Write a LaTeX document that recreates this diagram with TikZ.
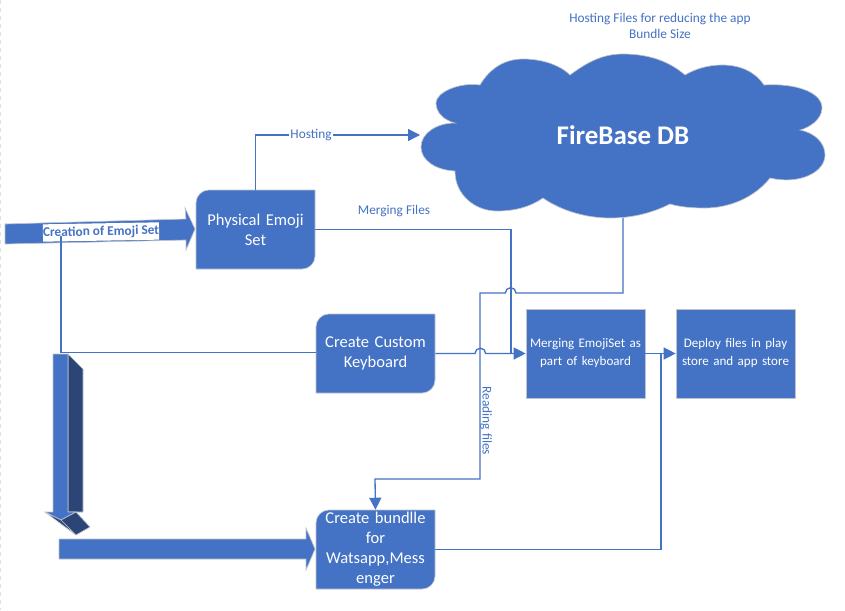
\documentclass[tikz,border=0pt]{standalone}
\usepackage{fontspec}
\setmainfont{Carlito}
\usetikzlibrary{arrows.meta}
\definecolor{mso}{HTML}{4472C4}
\definecolor{msodark}{HTML}{2B4576}
\definecolor{edgegray}{HTML}{BFC3CC}
\tikzset{
  shapefill/.style={fill=mso,draw=edgegray,line width=0.5pt},
  sidefill/.style={fill=msodark,draw=edgegray,line width=0.5pt},
  boxtext/.style={text=white,align=center,font=\fontsize{12.4}{15}\selectfont,minimum width=89.25pt,minimum height=59.25pt,inner sep=1pt,text width=86pt},
  smalltext/.style={text=white,align=center,font=\fontsize{9.8}{13.5}\selectfont,minimum width=89.25pt,minimum height=66.75pt,inner sep=1pt,text width=86pt,fill=mso,draw=edgegray,line width=0.5pt},
  conn/.style={draw=mso,line width=1pt},
  connarrow/.style={conn,-{Triangle[length=9pt,width=9pt]}},
  lbl/.style={text=mso,font=\fontsize{10}{11.5}\selectfont,inner sep=1pt,align=center}
}
\newcommand{\diagrect}[4]{% x1 y1 x2 y2, top-left and bottom-right corners rounded
  \draw[shapefill] (#1+13,#2) -- (#3,#2) -- (#3,#4-13) arc[start angle=0,end angle=-90,radius=9.75pt] -- (#1,#4) -- (#1,#2+13) arc[start angle=180,end angle=90,radius=9.75pt] -- cycle;}
\begin{document}
\begin{tikzpicture}[x=0.75pt,y=-0.75pt]
\useasboundingbox (0,0) rectangle (845,610);
\fill[white] (0,0) rectangle (845,610);
\draw[edgegray!50,line width=0.75pt,dashed] (0.5,0) -- (0.5,610);

% rounded boxes
\diagrect{196}{190}{315}{269}
\diagrect{316}{314}{435}{393}
\diagrect{316}{510}{435}{589}
\node[boxtext] (phys) at (255.5,229.5) {Physical Emoji\\Set};
\node[boxtext] (kbd) at (375.5,353.5) {\vphantom{p}Create Custom\\Keyboard};
\node[boxtext] (bundle) at (375.5,549.5) {Create bundlle\\for\\Watsapp,Mess\\enger};
\node[smalltext] (merge) at (585.5,353.5) {Merging EmojiSet as\\part of keyboard};
\node[smalltext] (deploy) at (735.5,353.5) {Deploy files in play\\store and app store};

% cloud
\draw[fill=mso,draw=edgegray,line width=0.5pt]
 (480,85) .. controls (490,68) and (505,59) .. (523,59) .. controls (542,59) and (560,65) .. (570,75)
 .. controls (590,60) and (605,54) .. (623,54) .. controls (650,54) and (670,62) .. (685,75)
 .. controls (695,69) and (708,65) .. (722,65) .. controls (742,65) and (756,73) .. (764,85)
 .. controls (795,83) and (822,92) .. (822,108) .. controls (822,120) and (808,128) .. (800,130)
 .. controls (815,133) and (825,143) .. (825,155) .. controls (825,172) and (800,185) .. (770,178)
 .. controls (755,197) and (730,208) .. (705,208) .. controls (692,208) and (680,207) .. (670,204)
 .. controls (650,214) and (630,218) .. (610,218) .. controls (585,218) and (560,210) .. (543,198)
 .. controls (530,207) and (515,211) .. (497,211) .. controls (475,211) and (455,195) .. (455,171)
 .. controls (435,170) and (421,160) .. (421,147) .. controls (421,133) and (437,123) .. (455,123)
 .. controls (443,120) and (436,112) .. (436,103) .. controls (436,92) and (460,82) .. (480,85) -- cycle;
\node[text=white,font=\fontsize{20.2}{24}\bfseries\selectfont,inner sep=0pt] (cloud) at (623,135) {FireBase DB};
\coordinate (cloudbase) at (623,218);
\coordinate (cloudin) at (420,135);

% top block arrow
\draw[shapefill] (5,224) -- (186,219) -- (185,208) -- (195,229) -- (186,250) -- (186,240) -- (5,244) -- cycle;
\node[fill=white,text=mso,rotate=1,font=\fontsize{10}{11}\bfseries\selectfont,minimum width=87pt,minimum height=13pt,inner sep=0pt] (create) at (101,232) {Creation of Emoji Set};

% 3D down arrow
\draw[sidefill] (68,354) -- (83,369) -- (83,512) -- (68,512) -- cycle;
\draw[shapefill] (53,354) -- (68,354) -- (68,512) -- (76,512) -- (61,520) -- (45,512) -- (53,512) -- cycle;
\draw[sidefill] (45,512) -- (61,520) -- (76,535) -- cycle;
\draw[sidefill] (61,520) -- (76,512) -- (90,527) -- (76,535) -- cycle;

% bottom block arrow
\draw[shapefill] (59,539) -- (306,539) -- (306,528) -- (315,549) -- (306,570) -- (306,559) -- (59,559) -- cycle;

% connectors
\draw[connarrow] (phys.north) -- (255.5,135) -- (cloudin);
\node[fill=white,lbl] (hosting) at (311,135) {Hosting};
\coordinate (mergetee) at (511,353);
\draw[conn] (phys.east) -- (511,229.5) -- (mergetee);
\node[lbl] (mergingfiles) at (394,211) {Merging Files};
\draw[connarrow] (cloudbase) -- (623,293) -- (516,293) arc[start angle=0,end angle=180,radius=4pt] -- (480,293) -- (480,479) -- (375,479) -- (bundle.north);
\draw[connarrow] (kbd.east) -- (475,353.5) arc[start angle=180,end angle=0,radius=4pt] -- (merge.west);
\draw[conn] (61,236) -- (61,352.5) -- (kbd.west |- 61,352.5);
\draw[connarrow] (merge.east) -- (deploy.west);
\draw[conn] (bundle.east) -- (661,549.5) -- (661,353.5);
\node[lbl,rotate=-90] (reading) at (486,421) {Reading files};
\node[lbl] (hostingnote) at (660,26) {Hosting Files for reducing the app\\Bundle Size};
\end{tikzpicture}
\end{document}
